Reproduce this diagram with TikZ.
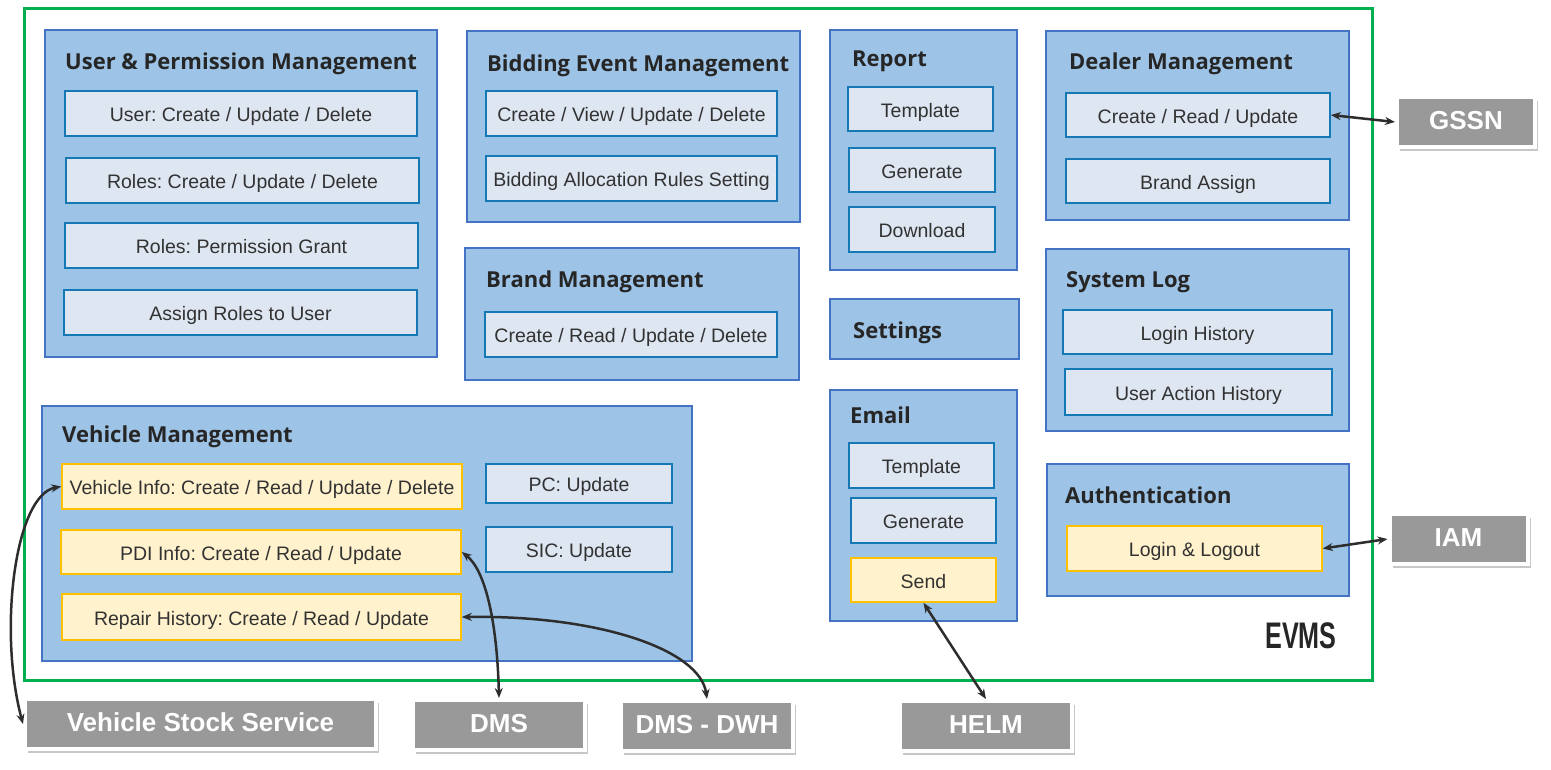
\documentclass[tikz,border=0pt]{standalone}
\usepackage{fontspec}
\setmainfont{Liberation Sans}
\newfontfamily\titlefont{Open Sans}
\usetikzlibrary{arrows.meta,shadows}
\frenchspacing

\definecolor{groupfill}{RGB}{157,195,230}
\definecolor{groupline}{RGB}{68,114,196}
\definecolor{itemfill}{RGB}{222,230,242}
\definecolor{itemline}{RGB}{20,120,180}
\definecolor{hotfill}{RGB}{255,242,204}
\definecolor{hotline}{RGB}{255,192,0}
\definecolor{extfill}{RGB}{153,153,153}
\definecolor{frameline}{RGB}{0,176,80}
\definecolor{titletext}{RGB}{38,38,38}
\definecolor{itemtext}{RGB}{50,50,50}
\definecolor{linkline}{RGB}{45,45,45}

\begin{document}
\begin{tikzpicture}[x=1pt,y=-1pt,
sysbox/.style={rectangle, draw=frameline, line width=3pt, inner sep=0pt},
grp/.style={rectangle, draw=groupline, fill=groupfill, line width=2.6pt, inner sep=0pt},
grptitle/.style={anchor=base west, inner sep=0pt, text=titletext, font=\titlefont\bfseries\fontsize{22}{26}\selectfont},
itm/.style={rectangle, draw=itemline, fill=itemfill, line width=1.6pt, minimum height=45pt, inner sep=0pt, text height=19pt, text depth=3pt, text=itemtext, font=\fontsize{19.5}{22}\selectfont},
hotitm/.style={itm, draw=hotline, fill=hotfill},
extsys/.style={rectangle, draw=white, line width=4pt, fill=extfill, minimum height=50pt, inner sep=0pt, text height=19pt, text depth=4pt, text=white, font=\bfseries\fontsize{26}{30}\selectfont, drop shadow={shadow xshift=3pt, shadow yshift=-4pt, fill=black, opacity=0.22}},
link/.style={draw=linkline, line width=2.5pt, {Stealth[length=10pt,width=8pt]}-{Stealth[length=10pt,width=8pt]}}]

\useasboundingbox (0,0) rectangle (1551,769);

%% system frame
\node[sysbox, minimum width=1348pt, minimum height=672pt] (evms) at (698,344) {};
\node[anchor=base, inner sep=0pt, text=titletext, font=\bfseries\fontsize{37}{37}\selectfont] (evms-label) at (1301,648) {\scalebox{0.68}[1]{EVMS}};

%% user & permission management
\node[grp, minimum width=392pt, minimum height=327pt] (upm) at (241,193.5) {};
\node[grptitle] (upm-title) at (65,69) {User \& Permission Management};
\node[itm, minimum width=352pt] (upm-1) at (241,113.5) {User: Create / Update / Delete};
\node[itm, minimum width=353pt] (upm-2) at (242.5,180.5) {Roles: Create / Update / Delete};
\node[itm, minimum width=353pt] (upm-3) at (241.5,245.5) {Roles: Permission Grant};
\node[itm, minimum width=353pt] (upm-4) at (240.5,312.5) {Assign Roles to User};

%% bidding event management
\node[grp, minimum width=333pt, minimum height=191pt] (bid) at (633.5,126.5) {};
\node[grptitle] (bid-title) at (487,71) {Bidding Event Management};
\node[itm, minimum width=291pt] (bid-1) at (631.5,113.5) {Create / View / Update / Delete};
\node[itm, minimum width=291pt] (bid-2) at (631.5,178.5) {Bidding Allocation Rules Setting};

%% brand management
\node[grp, minimum width=334pt, minimum height=132pt] (brd) at (632,314) {};
\node[grptitle] (brd-title) at (486,287) {Brand Management};
\node[itm, minimum width=292pt] (brd-1) at (631,334.5) {Create / Read / Update / Delete};

%% report
\node[grp, minimum width=187pt, minimum height=240pt] (rep) at (923.5,150) {};
\node[grptitle] (rep-title) at (852,66) {Report};
\node[itm, minimum width=145pt, minimum height=44pt] (rep-1) at (920.5,109) {Template};
\node[itm, minimum width=146pt, minimum height=44pt] (rep-2) at (922,170) {Generate};
\node[itm, minimum width=146pt] (rep-3) at (922,229.5) {Download};

%% settings
\node[grp, minimum width=189pt, minimum height=60pt] (set) at (924.5,329) {};
\node[grptitle] (set-title) at (853,338) {Settings};

%% email
\node[grp, minimum width=187pt, minimum height=231pt] (eml) at (923.5,505.5) {};
\node[grptitle] (eml-title) at (850,423) {Email};
\node[itm, minimum width=145pt] (eml-1) at (921.5,465.5) {Template};
\node[itm, minimum width=145pt] (eml-2) at (923.5,520.5) {Generate};
\node[hotitm, minimum width=145pt, minimum height=44pt] (eml-3) at (923.5,580) {Send};

%% dealer management
\node[grp, minimum width=303pt, minimum height=189pt] (dlr) at (1197.5,125.5) {};
\node[grptitle] (dlr-title) at (1069,69) {Dealer Management};
\node[itm, minimum width=264pt, minimum height=44pt] (dlr-1) at (1198,115) {Create / Read / Update};
\node[itm, minimum width=264pt, minimum height=44pt] (dlr-2) at (1198,181) {Brand Assign};

%% system log
\node[grp, minimum width=303pt, minimum height=182pt] (log) at (1197.5,340) {};
\node[grptitle] (log-title) at (1066,287) {System Log};
\node[itm, minimum width=269pt, minimum height=44pt] (log-1) at (1197.5,332) {Login History};
\node[itm, minimum width=267pt, minimum height=46pt] (log-2) at (1198.5,392) {User Action History};

%% authentication
\node[grp, minimum width=302pt, minimum height=132pt] (aut) at (1198,530) {};
\node[grptitle] (aut-title) at (1065,503) {Authentication};
\node[hotitm, minimum width=255pt] (aut-1) at (1194.5,548.5) {Login \& Logout};

%% vehicle management
\node[grp, minimum width=650pt, minimum height=255pt] (veh) at (367,533.5) {};
\node[grptitle] (veh-title) at (62,442) {Vehicle Management};
\node[hotitm, minimum width=400pt] (veh-1) at (262,486.5) {Vehicle Info: Create / Read / Update / Delete};
\node[hotitm, minimum width=400pt, minimum height=44pt] (veh-2) at (261,552) {PDI Info: Create / Read / Update};
\node[hotitm, minimum width=399pt, minimum height=46pt] (veh-3) at (261.5,617) {Repair History: Create / Read / Update};
\node[itm, minimum width=186pt, minimum height=39pt] (veh-4) at (579,483.5) {PC: Update};
\node[itm, minimum width=186pt] (veh-5) at (579,549.5) {SIC: Update};

%% outside systems
\node[extsys, minimum width=138pt] (gssn) at (1466,122) {GSSN};
\node[extsys, minimum width=138pt] (iam) at (1458.5,539) {IAM};
\node[extsys, minimum width=172pt] (helm) at (986,726) {HELM};
\node[extsys, minimum width=351pt] (vss) at (200.5,724) {Vehicle Stock Service};
\node[extsys, minimum width=172pt] (dms) at (499,725) {DMS};
\node[extsys, minimum width=172pt] (dwh) at (707,726) {DMS - DWH};

%% place all links
\draw[link] (dlr-1.east) -- (gssn.west);
\draw[link] (aut-1.east) -- (iam.west);
\draw[link] (eml-3.south) -- (helm.north);
\draw[link] (veh-1.west) .. controls (15,495) and (-2,630) .. (vss.west);
\draw[link] (veh-2.east) .. controls (485,570) and (497,620) .. (dms.north);
\draw[link] (veh-3.east) .. controls (600,615) and (700,650) .. (dwh.north);

\end{tikzpicture}
\end{document}
